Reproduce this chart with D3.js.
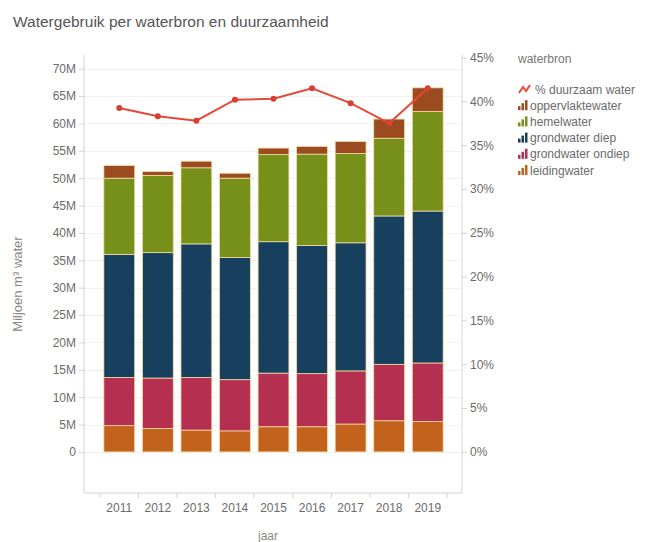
<!DOCTYPE html>
<html>
<head>
<meta charset="utf-8">
<script src="https://cdn.jsdelivr.net/npm/d3@7"></script>
<style>
  body { margin: 0; background: #fff; }
  text { font-family: "Liberation Sans", Arial, sans-serif; }
</style>
</head>
<body>
<svg id="chart" width="646" height="542"></svg>
<script>
'use strict';

// data (miljoen m3 per waterbron, % duurzaam water)
var years = ["2011", "2012", "2013", "2014", "2015", "2016", "2017", "2018", "2019"];
var leidingwater = [4.8, 4.3, 4.0, 3.85, 4.6, 4.6, 5.1, 5.7, 5.55];
var grondwaterOndiep = [8.8, 9.2, 9.6, 9.35, 9.8, 9.7, 9.7, 10.3, 10.7];
var grondwaterDiep = [22.5, 22.9, 24.4, 22.3, 24.0, 23.4, 23.4, 27.1, 27.75];
var hemelwater = [13.9, 14.1, 13.9, 14.5, 15.9, 16.7, 16.3, 14.2, 18.2];
var oppervlaktewater = [2.3, 0.7, 1.2, 0.9, 1.2, 1.4, 2.2, 3.5, 4.3];
var duurzaam = [39.25, 38.3, 37.8, 40.2, 40.3, 41.5, 39.8, 37.5, 41.5];

var leftTicks = [0, 5, 10, 15, 20, 25, 30, 35, 40, 45, 50, 55, 60, 65, 70];
var rightTicks = [0, 5, 10, 15, 20, 25, 30, 35, 40, 45];

var seriesNames = ["leidingwater", "grondwater ondiep", "grondwater diep", "hemelwater", "oppervlaktewater"];
var seriesValues = [leidingwater, grondwaterOndiep, grondwaterDiep, hemelwater, oppervlaktewater];
var seriesColors = ["#c2621c", "#b52f50", "#16405d", "#76901a", "#9a4b1f"];
var lineColor = "#e4493b";

var svg = d3.select("#chart");
var grey = "#6b6b6b";

var plot = {left: 84, right: 462, top: 55, bottom: 493};

var x = d3.scaleBand()
    .domain(years)
    .range([100, 447])
    .paddingInner(0.2)
    .paddingOuter(0.1);

var yLeft = d3.scaleLinear()
    .domain([-7.5, 72.5])
    .range([plot.bottom, plot.top]);

var yRight = d3.scaleLinear()
    .domain([-4.7, 45.3])
    .range([plot.bottom, plot.top]);

// title
svg.append("text")
    .attr("x", 13)
    .attr("y", 27)
    .style("font-size", "15.5px")
    .style("fill", "#555")
    .text("Watergebruik per waterbron en duurzaamheid");

// gridlines
svg.append("g")
    .selectAll("line")
    .data(leftTicks)
  .enter().append("line")
    .attr("x1", plot.left)
    .attr("x2", plot.right)
    .attr("y1", function(d) { return Math.round(yLeft(d)) + 0.5; })
    .attr("y2", function(d) { return Math.round(yLeft(d)) + 0.5; })
    .style("stroke", "#f1f1f1")
    .style("stroke-width", 1);

// stacked bars
var table = years.map(function(yr, i) {
    var row = {year: yr};
    for (var s = 0; s < seriesNames.length; s++) {
        row[seriesNames[s]] = seriesValues[s][i];
    }
    return row;
});
var stack = d3.stack().keys(seriesNames);
var layers = stack(table);

var layer = svg.append("g")
    .selectAll("g")
    .data(layers)
  .enter().append("g")
    .style("fill", function(d, i) { return seriesColors[i]; });

layer.selectAll("rect")
    .data(function(d) { return d; })
  .enter().append("rect")
    .attr("x", function(d) { return x(d.data.year); })
    .attr("width", x.bandwidth())
    .attr("y", function(d) { return yLeft(d[1]); })
    .attr("height", function(d) { return yLeft(d[0]) - yLeft(d[1]); })
    .style("stroke", "#f4dba6")
    .style("stroke-width", 0.8);

// axes
var axisColor = "#d4d4d4";

var leftAxis = svg.append("g")
    .attr("transform", "translate(" + plot.left + ",0)")
    .call(d3.axisLeft(yLeft).tickValues(leftTicks).tickSize(5).tickPadding(3)
        .tickFormat(function(d) { return d === 0 ? "0" : d + "M"; }));

var rightAxis = svg.append("g")
    .attr("transform", "translate(" + plot.right + ",0)")
    .call(d3.axisRight(yRight).tickValues(rightTicks).tickSize(5).tickPadding(3)
        .tickFormat(function(d) { return d + "%"; }));

var bottomAxis = svg.append("g")
    .attr("transform", "translate(0," + plot.bottom + ")")
    .call(d3.axisBottom(x).tickSize(0).tickPadding(10));

// tick marks at band boundaries
var bounds = years.map(function(yr) { return x(yr) - x.step() * x.paddingInner() / 2; });
bounds.push(x(years[years.length - 1]) + x.bandwidth() + x.step() * x.paddingInner() / 2);
bottomAxis.selectAll(".boundary")
    .data(bounds)
  .enter().append("line")
    .attr("class", "boundary")
    .attr("x1", function(d) { return d; })
    .attr("x2", function(d) { return d; })
    .attr("y1", 0)
    .attr("y2", 5)
    .style("stroke", axisColor);

[leftAxis, rightAxis, bottomAxis].forEach(function(ax) {
    ax.select(".domain").remove();
    ax.selectAll("line").style("stroke", axisColor);
    ax.selectAll("text").style("fill", grey).style("font-size", "12px").style("font-family", "'Liberation Sans', Arial, sans-serif");
});

// axis lines
svg.append("line")
    .attr("x1", plot.left).attr("x2", plot.left)
    .attr("y1", plot.top).attr("y2", plot.bottom)
    .style("stroke", axisColor);
svg.append("line")
    .attr("x1", plot.right).attr("x2", plot.right)
    .attr("y1", plot.top).attr("y2", plot.bottom)
    .style("stroke", axisColor);
svg.append("line")
    .attr("x1", plot.left).attr("x2", plot.right)
    .attr("y1", plot.bottom).attr("y2", plot.bottom)
    .style("stroke", axisColor);

// axis titles
svg.append("text")
    .attr("transform", "translate(22," + ((plot.top + plot.bottom) / 2 + 10) + ") rotate(-90)")
    .attr("text-anchor", "middle")
    .style("font-size", "13px")
    .style("fill", "#888")
    .text("Miljoen m\u00b3 water");

svg.append("text")
    .attr("x", 268)
    .attr("y", 540)
    .attr("text-anchor", "middle")
    .style("font-size", "12px")
    .style("fill", "#888")
    .text("jaar");

// % duurzaam line
var line = d3.line()
    .x(function(d, i) { return x(years[i]) + x.bandwidth() / 2; })
    .y(function(d) { return yRight(d); });

svg.append("path")
    .datum(duurzaam)
    .attr("d", line)
    .style("fill", "none")
    .style("stroke", lineColor)
    .style("stroke-width", 2);

svg.append("g")
    .selectAll("circle")
    .data(duurzaam)
  .enter().append("circle")
    .attr("cx", function(d, i) { return x(years[i]) + x.bandwidth() / 2; })
    .attr("cy", function(d) { return yRight(d); })
    .attr("r", 3)
    .style("fill", "#d93f33");

// legend
var legend = svg.append("g").attr("transform", "translate(518,0)");
legend.append("text")
    .attr("x", 0)
    .attr("y", 63)
    .style("font-size", "12px")
    .style("fill", "#777")
    .text("waterbron");

var legendItems = [{name: "% duurzaam water", color: lineColor, type: "line"}];
for (var s = seriesNames.length - 1; s >= 0; s--) {
    legendItems.push({name: seriesNames[s], color: seriesColors[s], type: "bar"});
}

var rowY = d3.scalePoint()
    .domain(legendItems.map(function(d) { return d.name; }))
    .range([89, 170]);

var item = legend.selectAll(".item")
    .data(legendItems)
  .enter().append("g")
    .attr("class", "item")
    .attr("transform", function(d) { return "translate(0," + rowY(d.name) + ")"; });

item.each(function(d) {
    var g = d3.select(this);
    if (d.type === "line") {
        g.append("path")
            .attr("d", "M1,4 L5,-2 L8,2 L12,-4")
            .style("fill", "none")
            .style("stroke", d.color)
            .style("stroke-width", 2);
    } else {
        [4, 7, 10].forEach(function(h, k) {
            g.append("rect")
                .attr("x", k * 3.5)
                .attr("y", 5 - h)
                .attr("width", 2.5)
                .attr("height", h)
                .style("fill", d.color);
        });
    }
});

item.append("text")
    .attr("x", function(d) { return d.type === "line" ? 17 : 12; })
    .attr("y", 4.5)
    .style("font-size", "12px")
    .style("fill", grey)
    .text(function(d) { return d.name; });
</script>
</body>
</html>
